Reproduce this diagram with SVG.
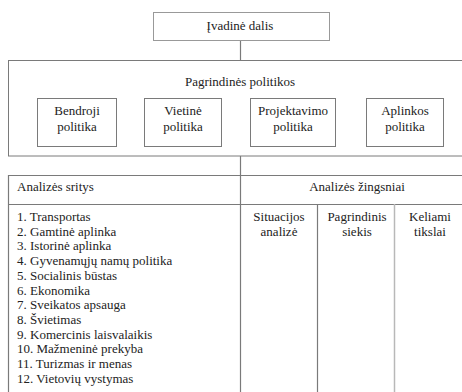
<svg xmlns="http://www.w3.org/2000/svg" width="462" height="392" viewBox="0 0 462 392">
<style>
.t{font-family:'Liberation Serif',serif;font-size:13px;fill:#222}
.c{text-anchor:middle}
.b{fill:#fff;stroke:#7a7a7a;stroke-width:1}
.ln{stroke:#7a7a7a;stroke-width:1.2;fill:none}
</style>
<rect width="462" height="392" fill="#fff"/>
<g id="connectors">
<line class="ln" x1="240.5" y1="41" x2="240.5" y2="60"/>
<line class="ln" x1="240.5" y1="156" x2="240.5" y2="175"/>
</g>
<g id="ivadine">
<rect class="b" x="153.5" y="12.5" width="176" height="28" style="stroke:#999"/>
<text class="t c" x="240" y="30">Įvadinė dalis</text>
</g>
<g id="pagrindines">
<rect class="b" x="8.5" y="60.5" width="470" height="95.5"/>
<text class="t c" x="240" y="86">Pagrindinės politikos</text>
</g>
<g id="bendroji">
<rect class="b" x="37.5" y="98.5" width="79" height="48"/>
<text class="t c" x="77" y="115">Bendroji</text>
<text class="t c" x="77" y="131">politika</text>
</g>
<g id="vietine">
<rect class="b" x="144.5" y="98.5" width="77" height="48"/>
<text class="t c" x="183" y="115">Vietinė</text>
<text class="t c" x="183" y="131">politika</text>
</g>
<g id="projektavimo">
<rect class="b" x="250.5" y="98.5" width="85" height="48"/>
<text class="t c" x="293" y="115">Projektavimo</text>
<text class="t c" x="293" y="131">politika</text>
</g>
<g id="aplinkos">
<rect class="b" x="366.5" y="98.5" width="77" height="48"/>
<text class="t c" x="405" y="115">Aplinkos</text>
<text class="t c" x="405" y="131">politika</text>
</g>
<g id="analizes-lentele">
<line class="ln" x1="8.5" y1="175.5" x2="470" y2="175.5"/>
<line class="ln" x1="8.5" y1="204.5" x2="470" y2="204.5"/>
<line class="ln" x1="8.5" y1="175" x2="8.5" y2="400"/>
<line class="ln" x1="240.5" y1="175" x2="240.5" y2="400"/>
<line class="ln" x1="317.5" y1="204" x2="317.5" y2="400"/>
<line class="ln" x1="394.5" y1="204" x2="394.5" y2="400" style="stroke:#b8b8b8;stroke-width:1.5"/>
</g>
<g id="analizes-sritys">
<text class="t" x="17" y="191">Analizės sritys</text>
<text class="t" x="17" y="221">1. Transportas</text>
<text class="t" x="17" y="235.7">2. Gamtinė aplinka</text>
<text class="t" x="17" y="250.4">3. Istorinė aplinka</text>
<text class="t" x="17" y="265.1">4. Gyvenamųjų namų politika</text>
<text class="t" x="17" y="279.8">5. Socialinis būstas</text>
<text class="t" x="17" y="294.5">6. Ekonomika</text>
<text class="t" x="17" y="309.2">7. Sveikatos apsauga</text>
<text class="t" x="17" y="323.9">8. Švietimas</text>
<text class="t" x="17" y="338.6">9. Komercinis laisvalaikis</text>
<text class="t" x="17" y="353.3">10. Mažmeninė prekyba</text>
<text class="t" x="17" y="368">11. Turizmas ir menas</text>
<text class="t" x="17" y="382.7">12. Vietovių vystymas</text>
</g>
<g id="analizes-zingsniai">
<text class="t c" x="357" y="191">Analizės žingsniai</text>
</g>
<g id="situacijos">
<text class="t c" x="279" y="221">Situacijos</text>
<text class="t c" x="279" y="236">analizė</text>
</g>
<g id="pagrindinis">
<text class="t c" x="357" y="221">Pagrindinis</text>
<text class="t c" x="357" y="236">siekis</text>
</g>
<g id="keliami">
<text class="t c" x="430" y="221">Keliami</text>
<text class="t c" x="430" y="236">tikslai</text>
</g>
</svg>
